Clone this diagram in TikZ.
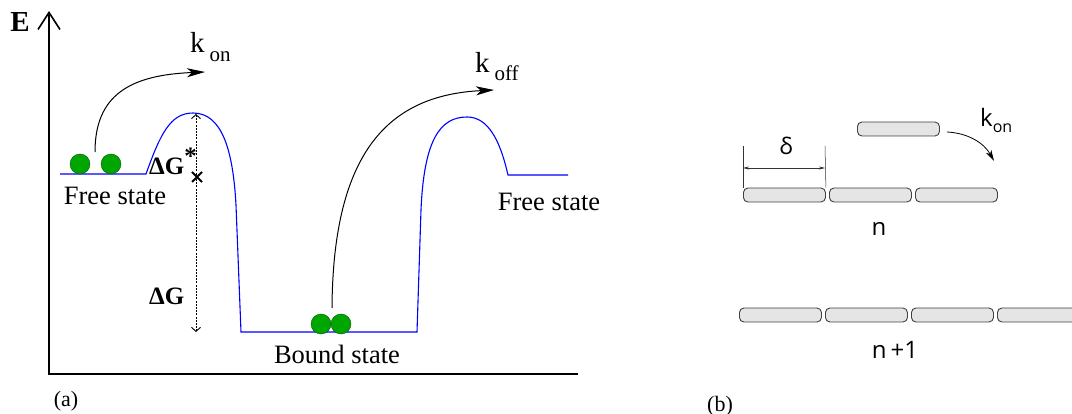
\documentclass[tikz,border=0pt]{standalone}
\usepackage{fontspec}
\setmainfont{Liberation Serif}
\newfontfamily\sansb{Open Sans}
\usetikzlibrary{arrows.meta,calc}
\tikzset{
  x=1pt, y=-1pt,
  axisline/.style={line width=2pt},
  energy/.style={blue, line width=1.1pt},
  rate/.style={line width=1pt, -{Stealth[length=18pt,width=9pt,inset=5pt]}},
  ball/.style={circle, fill=green!65!black, draw=green!35!black, line width=0.4pt, minimum size=20pt, inner sep=0pt},
  lbl/.style={font=\fontsize{26.5}{30}\selectfont, inner sep=0pt},
  glbl/.style={font=\fontsize{25}{28}\selectfont\bfseries, inner sep=0pt},
  rod/.style={draw=black!75, fill=black!10, line width=0.9pt, rounded corners=4.5pt, minimum width=82pt, minimum height=14pt, inner sep=0pt, anchor=west},
  slbl/.style={font=\sansb\fontsize{24}{28}\selectfont, inner sep=0pt},
  dim/.style={line width=0.5pt, black!80},
}
\begin{document}
\begin{tikzpicture}
\clip (0,0) rectangle (1072,414);
\useasboundingbox (0,0) rectangle (1072,414);

% ---------- (a) ----------
\coordinate (ytip) at (49,11);
\coordinate (origin) at (49,374);
\coordinate (xend) at (578,374);
\draw[axisline, {Straight Barb[length=17pt,width=22pt,line width=1.6pt]}-] (ytip) -- (origin) -- (xend);
\node[font=\fontsize{29}{32}\selectfont\bfseries, inner sep=0pt] (E) at (20,22) {E};

% energy profile
\draw[energy] (60,174) -- (146,174)
  .. controls (160,135) and (170,113) .. (193,113)
  .. controls (222,113) and (233,150) .. (236,205)
  -- (241,332) -- (417,332) -- (421,210)
  .. controls (424,140) and (440,117) .. (467,117)
  .. controls (488,117) and (500,140) .. (508,175)
  -- (568,175);

% balls
\node[ball] (b1) at (80,164) {};
\node[ball] (b2) at (111,164) {};
\node[ball] (b3) at (321,324) {};
\node[ball] (b4) at (341,324) {};

% dG dotted
\coordinate (dgtop) at (196,114);
\coordinate (dgbot) at (196,332);
\draw[line width=0.7pt, dash pattern=on 2pt off 1.2pt, {Straight Barb[length=4pt,width=9pt,line width=0.9pt]}-{Straight Barb[length=4pt,width=9pt,line width=0.9pt]}] (dgtop) -- (dgbot);
\coordinate (xmark) at (197,177);
\draw[line width=1.8pt] ($(xmark)+(-5,-5)$) -- ($(xmark)+(5,5)$) ($(xmark)+(-5,5)$) -- ($(xmark)+(5,-5)$);
\node[glbl, anchor=base west] (dgs) at (149,175) {ΔG\raisebox{0.4em}{*}};
\node[glbl, anchor=base west] (dg) at (149,305) {ΔG};

% rate arrows
\coordinate (konS) at (95,152);
\coordinate (konE) at (205,72);
\draw[rate] (konS) .. controls (95,95) and (130,75) .. (konE);
\node[font=\fontsize{29}{32}\selectfont, inner sep=0pt, anchor=base west] (kon) at (190,53) {k\,\raisebox{-0.3em}{\fontsize{21}{24}\selectfont on}};
\coordinate (koffS) at (332,308);
\coordinate (koffE) at (494,90);
\draw[rate] (koffS) .. controls (333,150) and (390,95) .. (koffE);
\node[font=\fontsize{29}{32}\selectfont, inner sep=0pt, anchor=base west] (koff) at (475,73) {k\,\raisebox{-0.25em}{\fontsize{21}{24}\selectfont off}};

% state labels
\node[lbl] (fs1) at (115,196) {Free state};
\node[lbl] (fs2) at (549,202) {Free state};
\node[lbl] (bs) at (337,354) {Bound state};
\node[font=\fontsize{22}{24}\selectfont, inner sep=0pt] (la) at (66,401) {(a)};

% ---------- (b) ----------
\node[rod] (r1) at (743,195) {};
\node[rod] (r2) at (829,195) {};
\node[rod] (r3) at (915,195) {};
\node[rod] (rt) at (857,129) {};
\node[slbl] (n) at (879,229) {n};

\node[rod] (s1) at (739,315) {};
\node[rod] (s2) at (825,315) {};
\node[rod] (s3) at (911,315) {};
\node[rod] (s4) at (997,315) {};
\node[slbl] (n1) at (895,350) {n\,+1};

% delta dimension
\coordinate (d1top) at (743,146);
\coordinate (d2top) at (825,146);
\draw[dim] (d1top) -- (r1.north west);
\draw[dim] (d2top) -- (r1.north east);
\coordinate (da) at (743,168);
\coordinate (db) at (825,168);
\draw[dim, {Stealth[length=6pt,width=3pt]}-{Stealth[length=6pt,width=3pt]}] (da) -- (db);
\node[slbl, font=\sansb\fontsize{23}{26}\selectfont] (delta) at (786,146) {δ};

% kon arrow
\coordinate (kbS) at (947,132);
\coordinate (kbE) at (994,161);
\draw[line width=0.8pt, -{Stealth[length=11pt,width=6pt,inset=3pt]}] (kbS) .. controls (968,133) and (984,143) .. (kbE);
\node[slbl, anchor=base west] (kb) at (980,127) {k\raisebox{-0.25em}{\fontsize{16}{18}\selectfont on}};
\node[font=\fontsize{22}{24}\selectfont, inner sep=0pt] (lb) at (720,406) {(b)};
\end{tikzpicture}
\end{document}
